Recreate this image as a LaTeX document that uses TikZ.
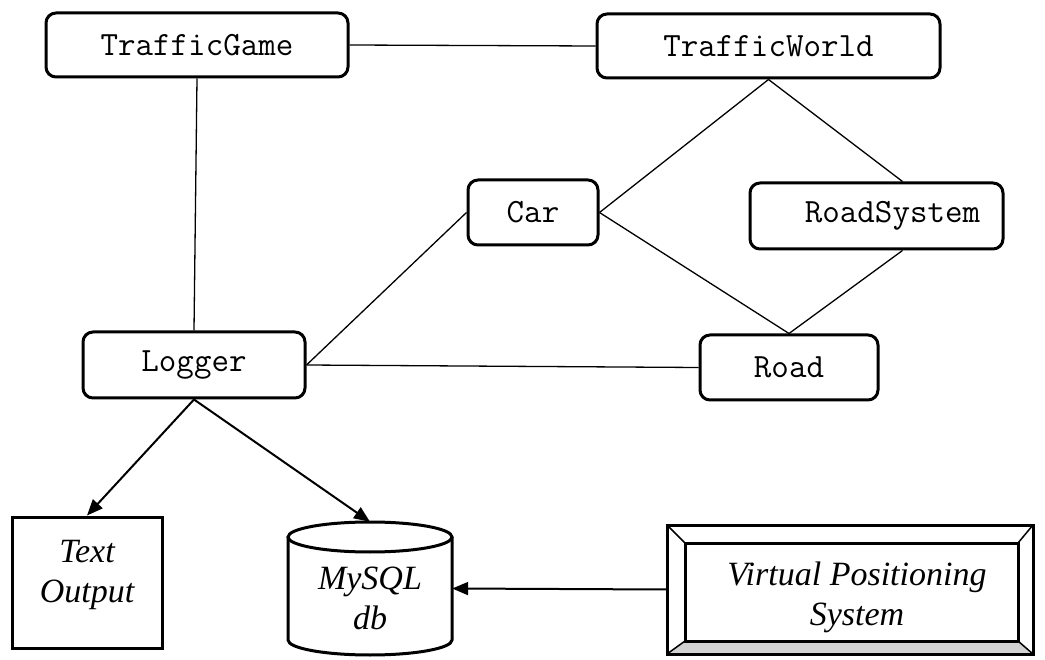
\documentclass[tikz,border=0pt]{standalone}
\usepackage{fontspec}
\setmainfont{Liberation Serif}
\usetikzlibrary{arrows.meta,calc}
\begin{document}
\begin{tikzpicture}[x=1pt,y=-1pt]
\tikzset{
  cls/.style={draw, line width=3pt, rounded corners=10pt, inner sep=0pt,
    font=\fontsize{34}{38}\selectfont\ttfamily\addfontfeatures{FakeBold=1.2}},
  link/.style={line width=1.3pt},
  flow/.style={line width=2pt, -{Triangle[length=16pt,width=13pt]}},
  store/.style={inner sep=0pt, align=center,
    font=\fontsize{34}{40}\selectfont\itshape},
  heavy/.style={line width=3pt}
}
% canvas
\fill[white] (0,0) rectangle (1045,660);
\useasboundingbox (0,0) rectangle (1045,660);

% classes
\node[cls, minimum width=302, minimum height=64] (game)   at (197,45)    {TrafficGame};
\node[cls, minimum width=343, minimum height=64] (world)  at (768.5,46)  {TrafficWorld};
\node[cls, minimum width=130, minimum height=65] (car)    at (533,212.5) {Car};
\node[cls, minimum width=253, minimum height=66] (rsys)   at (876.5,216) {\hspace*{32pt}RoadSystem};
\node[cls, minimum width=222, minimum height=66] (logger) at (194,365)   {Logger};
\node[cls, minimum width=178, minimum height=65] (road)   at (789,367.5) {Road};

% associations
\draw[link] (game.east) -- (world.west);
\draw[link] (game.south) -- (logger.north);
\draw[link] (world.south) -- ([xshift=26pt]rsys.north);
\draw[link] (world.south) -- (car.east);
\draw[link] (car.west) -- (logger.east);
\draw[link] (car.east) -- (road.north);
\draw[link] ([xshift=26pt]rsys.south) -- (road.north);
\draw[link] (logger.east) -- (road.west);

% text output sink
\node[draw, heavy, minimum width=150, minimum height=131, inner sep=0pt] (out) at (87,582.5) {};
\node[store] (outtext) at (87,575) {Text\\Output};

% database cylinder
\node[minimum width=164, minimum height=133, inner sep=0pt] (db) at (370,588.5) {};
\draw[heavy] (370,537) ellipse [x radius=82, y radius=15];
\draw[heavy] (288,537) -- (288,640) arc[start angle=180, end angle=0, x radius=82, y radius=15] -- (452,537);
\node[store] (dbtext) at (370,598) {MySQL\\db};

% positioning system, bevelled panel
\node[minimum width=366, minimum height=129, inner sep=0pt] (vps) at (850,589.5) {};
\fill[gray!35] (667,654) -- (685,641) -- (1018,641) -- (1033,654) -- cycle;
\draw[line width=1.5pt] (667,525) -- (685,543) (1033,525) -- (1018,543)
  (667,654) -- (685,641) (1033,654) -- (1018,641);
\draw[heavy] (667,525) rectangle (1033,654);
\draw[heavy] (685,543) rectangle (1018,641);
\node[store] (vpstext) at (857,597) {Virtual Positioning\\System};

% data flows
\draw[flow] (logger.south) -- (out.north);
\draw[flow] (logger.south) -- (db.north);
\draw[flow] (vps.west) -- (db.east);
\end{tikzpicture}
\end{document}
